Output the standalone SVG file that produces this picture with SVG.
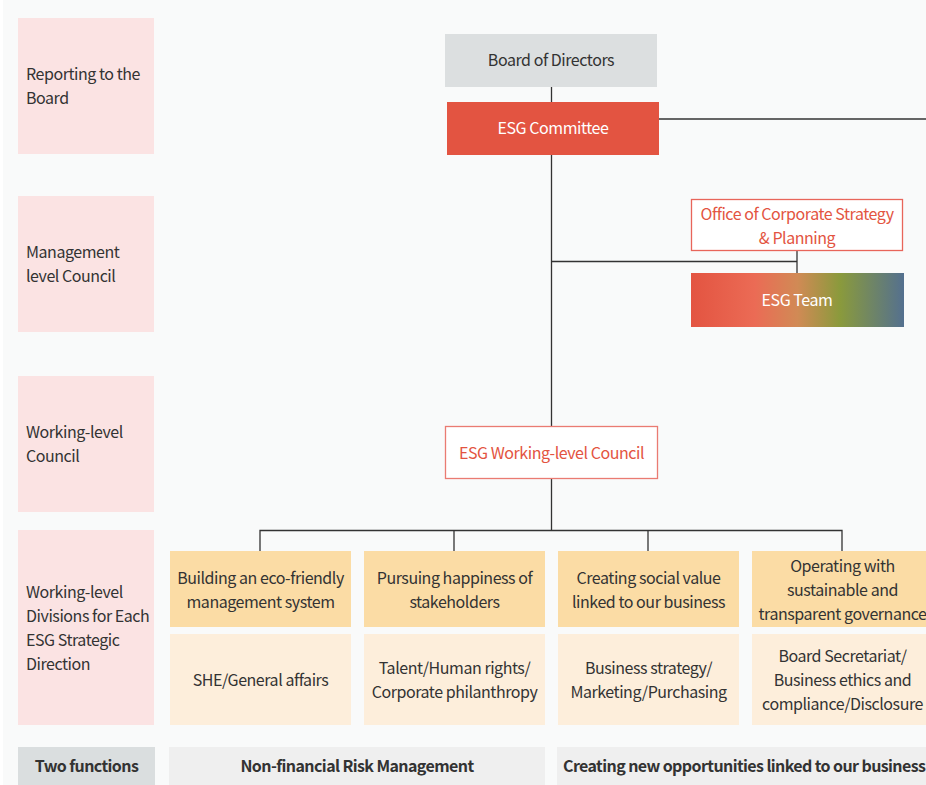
<svg xmlns="http://www.w3.org/2000/svg" width="926" height="785" viewBox="0 0 926 785">
<defs>
<linearGradient id="teamGrad" x1="0" y1="0" x2="1" y2="0">
<stop offset="0" stop-color="#e35441"/>
<stop offset="0.3" stop-color="#eb6b55"/>
<stop offset="0.5" stop-color="#d18a55"/>
<stop offset="0.7" stop-color="#8a9a3c"/>
<stop offset="1" stop-color="#54708f"/>
</linearGradient>
<style>
text{font-family:"Noto Sans CJK KR","Noto Sans",sans-serif;font-size:16px;fill:#333;letter-spacing:-0.45px}
.c{text-anchor:middle}
.w{fill:#fff}
.r{fill:#e35441}
.b{font-weight:bold;letter-spacing:-0.6px}
.lvl{fill:#fbe3e3}
.or{fill:#fbdca5}
.lt{fill:#fdeedb}
.ln{stroke:#333;stroke-width:1.3;fill:none}
</style>
</defs>
<rect x="0" y="0" width="926" height="785" fill="#fff"/>
<rect x="3" y="0" width="923" height="785" fill="#f9fafa"/>

<g id="connectors">
<line class="ln" x1="551.5" y1="87" x2="551.5" y2="102"/>
<line class="ln" x1="551.5" y1="155" x2="551.5" y2="426"/>
<line class="ln" x1="659" y1="119" x2="926" y2="119"/>
<line class="ln" x1="551.5" y1="261.5" x2="797" y2="261.5"/>
<line class="ln" x1="797" y1="251" x2="797" y2="273"/>
<line class="ln" x1="551.5" y1="479" x2="551.5" y2="530.5"/>
<polyline class="ln" points="260,551 260,530.5 842,530.5 842,551"/>
<line class="ln" x1="454" y1="530.5" x2="454" y2="551"/>
<line class="ln" x1="648" y1="530.5" x2="648" y2="551"/>
</g>

<g id="level-board">
<rect class="lvl" x="18" y="18" width="136" height="136"/>
<text x="26" y="80">Reporting to the</text>
<text x="26" y="104">Board</text>
</g>
<g id="level-management">
<rect class="lvl" x="18" y="196" width="136" height="136"/>
<text x="26" y="258">Management</text>
<text x="26" y="282">level Council</text>
</g>
<g id="level-working">
<rect class="lvl" x="18" y="376" width="136" height="136"/>
<text x="26" y="438">Working-level</text>
<text x="26" y="462">Council</text>
</g>
<g id="level-divisions">
<rect class="lvl" x="18" y="530" width="136" height="195"/>
<text x="26" y="598">Working-level</text>
<text x="26" y="622">Divisions for Each</text>
<text x="26" y="646">ESG Strategic</text>
<text x="26" y="670">Direction</text>
</g>

<g id="board-of-directors">
<rect x="445" y="34" width="212" height="53" fill="#dcdfe0"/>
<text class="c" x="551" y="66">Board of Directors</text>
</g>
<g id="esg-committee">
<rect x="447" y="102" width="212" height="53" fill="#e35441"/>
<text class="c w" x="553" y="134">ESG Committee</text>
</g>
<g id="office-strategy">
<rect x="691.5" y="199.5" width="211" height="51" fill="#fff" stroke="#e8655a" stroke-width="1.3"/>
<text class="c r" x="797" y="220">Office of Corporate Strategy</text>
<text class="c r" x="797" y="244">&amp; Planning</text>
</g>
<g id="esg-team">
<rect x="691" y="273" width="213" height="54" fill="url(#teamGrad)"/>
<text class="c w" x="797" y="306">ESG Team</text>
</g>
<g id="esg-working-council">
<rect x="445.5" y="426.5" width="212" height="52" fill="#fff" stroke="#ea7b72" stroke-width="1.3"/>
<text class="c r" x="551.5" y="459">ESG Working-level Council</text>
</g>

<g id="dir-eco">
<rect class="or" x="170" y="551" width="181" height="76"/>
<text class="c" x="260.5" y="584">Building an eco-friendly</text>
<text class="c" x="260.5" y="608">management system</text>
</g>
<g id="dir-happiness">
<rect class="or" x="364" y="551" width="181" height="76"/>
<text class="c" x="454.5" y="584">Pursuing happiness of</text>
<text class="c" x="454.5" y="608">stakeholders</text>
</g>
<g id="dir-social">
<rect class="or" x="558" y="551" width="181" height="76"/>
<text class="c" x="648.5" y="584">Creating social value</text>
<text class="c" x="648.5" y="608">linked to our business</text>
</g>
<g id="dir-governance">
<rect class="or" x="752" y="551" width="181" height="76"/>
<text class="c" x="842.5" y="572">Operating with</text>
<text class="c" x="842.5" y="596">sustainable and</text>
<text class="c" x="842.5" y="620">transparent governance</text>
</g>

<g id="div-she">
<rect class="lt" x="170" y="634" width="181" height="91"/>
<text class="c" x="260.5" y="686">SHE/General affairs</text>
</g>
<g id="div-talent">
<rect class="lt" x="364" y="634" width="181" height="91"/>
<text class="c" x="454.5" y="674">Talent/Human rights/</text>
<text class="c" x="454.5" y="698">Corporate philanthropy</text>
</g>
<g id="div-business">
<rect class="lt" x="558" y="634" width="181" height="91"/>
<text class="c" x="648.5" y="674">Business strategy/</text>
<text class="c" x="648.5" y="698">Marketing/Purchasing</text>
</g>
<g id="div-board-sec">
<rect class="lt" x="752" y="634" width="181" height="91"/>
<text class="c" x="842.5" y="662">Board Secretariat/</text>
<text class="c" x="842.5" y="686">Business ethics and</text>
<text class="c" x="842.5" y="710">compliance/Disclosure</text>
</g>

<g id="two-functions">
<rect x="18" y="747" width="137" height="38" fill="#dadedf"/>
<text class="c b" x="86.5" y="772">Two functions</text>
</g>
<g id="func-risk">
<rect x="169" y="747" width="376" height="38" fill="#efefef"/>
<text class="c b" x="357" y="772">Non-financial Risk Management</text>
</g>
<g id="func-opportunities">
<rect x="557" y="747" width="380" height="38" fill="#efefef"/>
<text class="b" x="563" y="772">Creating new opportunities linked to our business</text>
</g>
</svg>
